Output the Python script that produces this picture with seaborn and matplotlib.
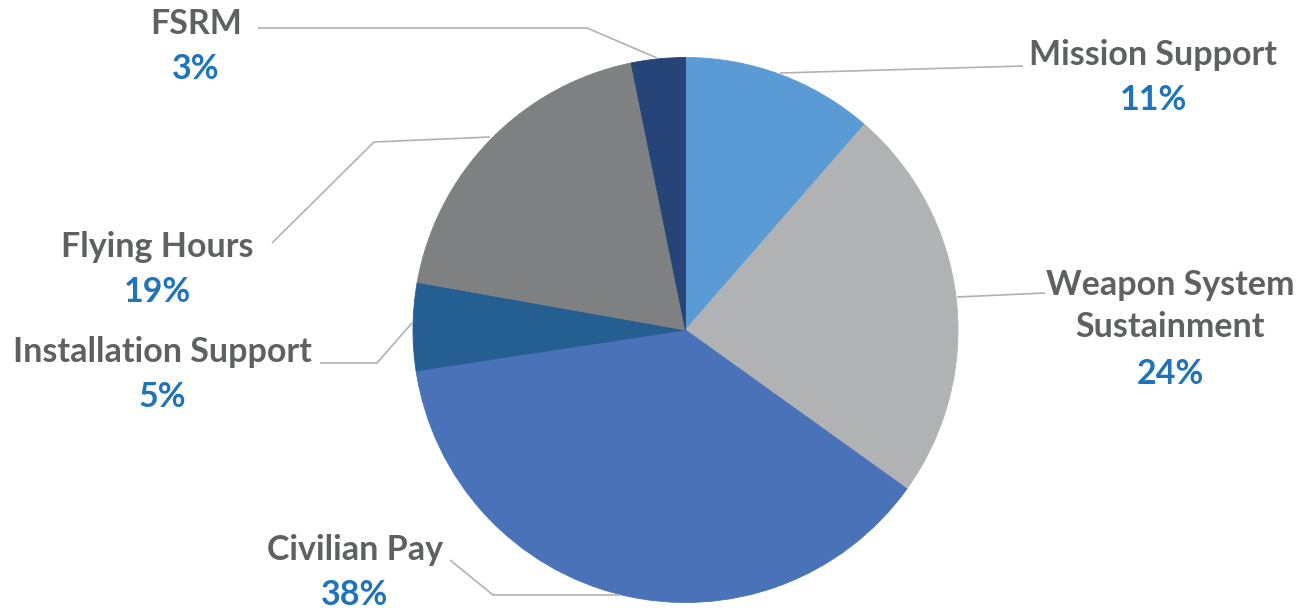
import matplotlib
matplotlib.use("Agg")
import matplotlib.pyplot as plt
import seaborn as sns

# ── Data ────────────────────────────────────────────────
categories = ["Mission Support", "Weapon System\nSustainment", "Civilian Pay",
              "Installation Support", "Flying Hours", "FSRM"]
shares     = [11.4, 23.5, 37.7, 5.2, 19.0, 3.2]
pct_labels = ["11%", "24%", "38%", "5%", "19%", "3%"]

colors = ["#5B9BD5", "#B1B2B4", "#4A72B8", "#255E91", "#7F8082", "#264478"]

# ── Style ───────────────────────────────────────────────
sns.set_theme(style="white")
plt.rcParams['font.family'] = ['Lato', 'DejaVu Sans']

W, H = 1310, 609
fig = plt.figure(figsize=(W / 100, H / 100), dpi=100)
ax = fig.add_axes([0, 0, 1, 1])

def py(y):
    # image y (top-down) -> axes y (bottom-up)
    return H - y

wedges, _ = ax.pie(shares, colors=colors, startangle=90, counterclock=False,
                   center=(685.5, py(330)), radius=272.5,
                   wedgeprops=dict(linewidth=0.6))
for w in wedges:
    w.set_edgecolor(w.get_facecolor())

ax.set_xlim(0, W)
ax.set_ylim(0, H)
ax.set_aspect("equal")
ax.axis("off")

# label positions (center x, center y of the name block) in image pixels
label_pos = [(1153, 55), (1170, 306), (355, 550), (162, 352), (157, 247), (196, 24)]
name_lines = [c.count("\n") + 1 for c in categories]

LINE_PX = 45
FS = 24.5
txt_color = "#5F6062"
pct_color = "#1F73BA"
for name, pct, (x, y), n in zip(categories, pct_labels, label_pos, name_lines):
    ax.text(x, py(y), name, ha="center", va="center", fontsize=FS,
            fontweight="bold", color=txt_color, linespacing=1.36)
    ax.text(x, py(y + LINE_PX * (n + 1) / 2), pct, ha="center", va="center",
            fontsize=FS, fontweight="bold", color=pct_color)

# leader lines (image pixel coords)
leaders = [
    [(1023, 66), (780, 73)],
    [(1045, 293), (957, 297)],
    [(450, 560), (493, 595), (620, 595)],
    [(320, 363), (377, 363), (412, 323)],
    [(272, 243), (374, 142), (490, 137)],
    [(258, 28), (587, 28), (657, 58)],
]
for pts in leaders:
    xs = [p[0] for p in pts]
    ys = [py(p[1]) for p in pts]
    ax.plot(xs, ys, color="#B0B1B3", lw=1.2, solid_capstyle="butt")

fig.savefig("out.png", dpi=100)
